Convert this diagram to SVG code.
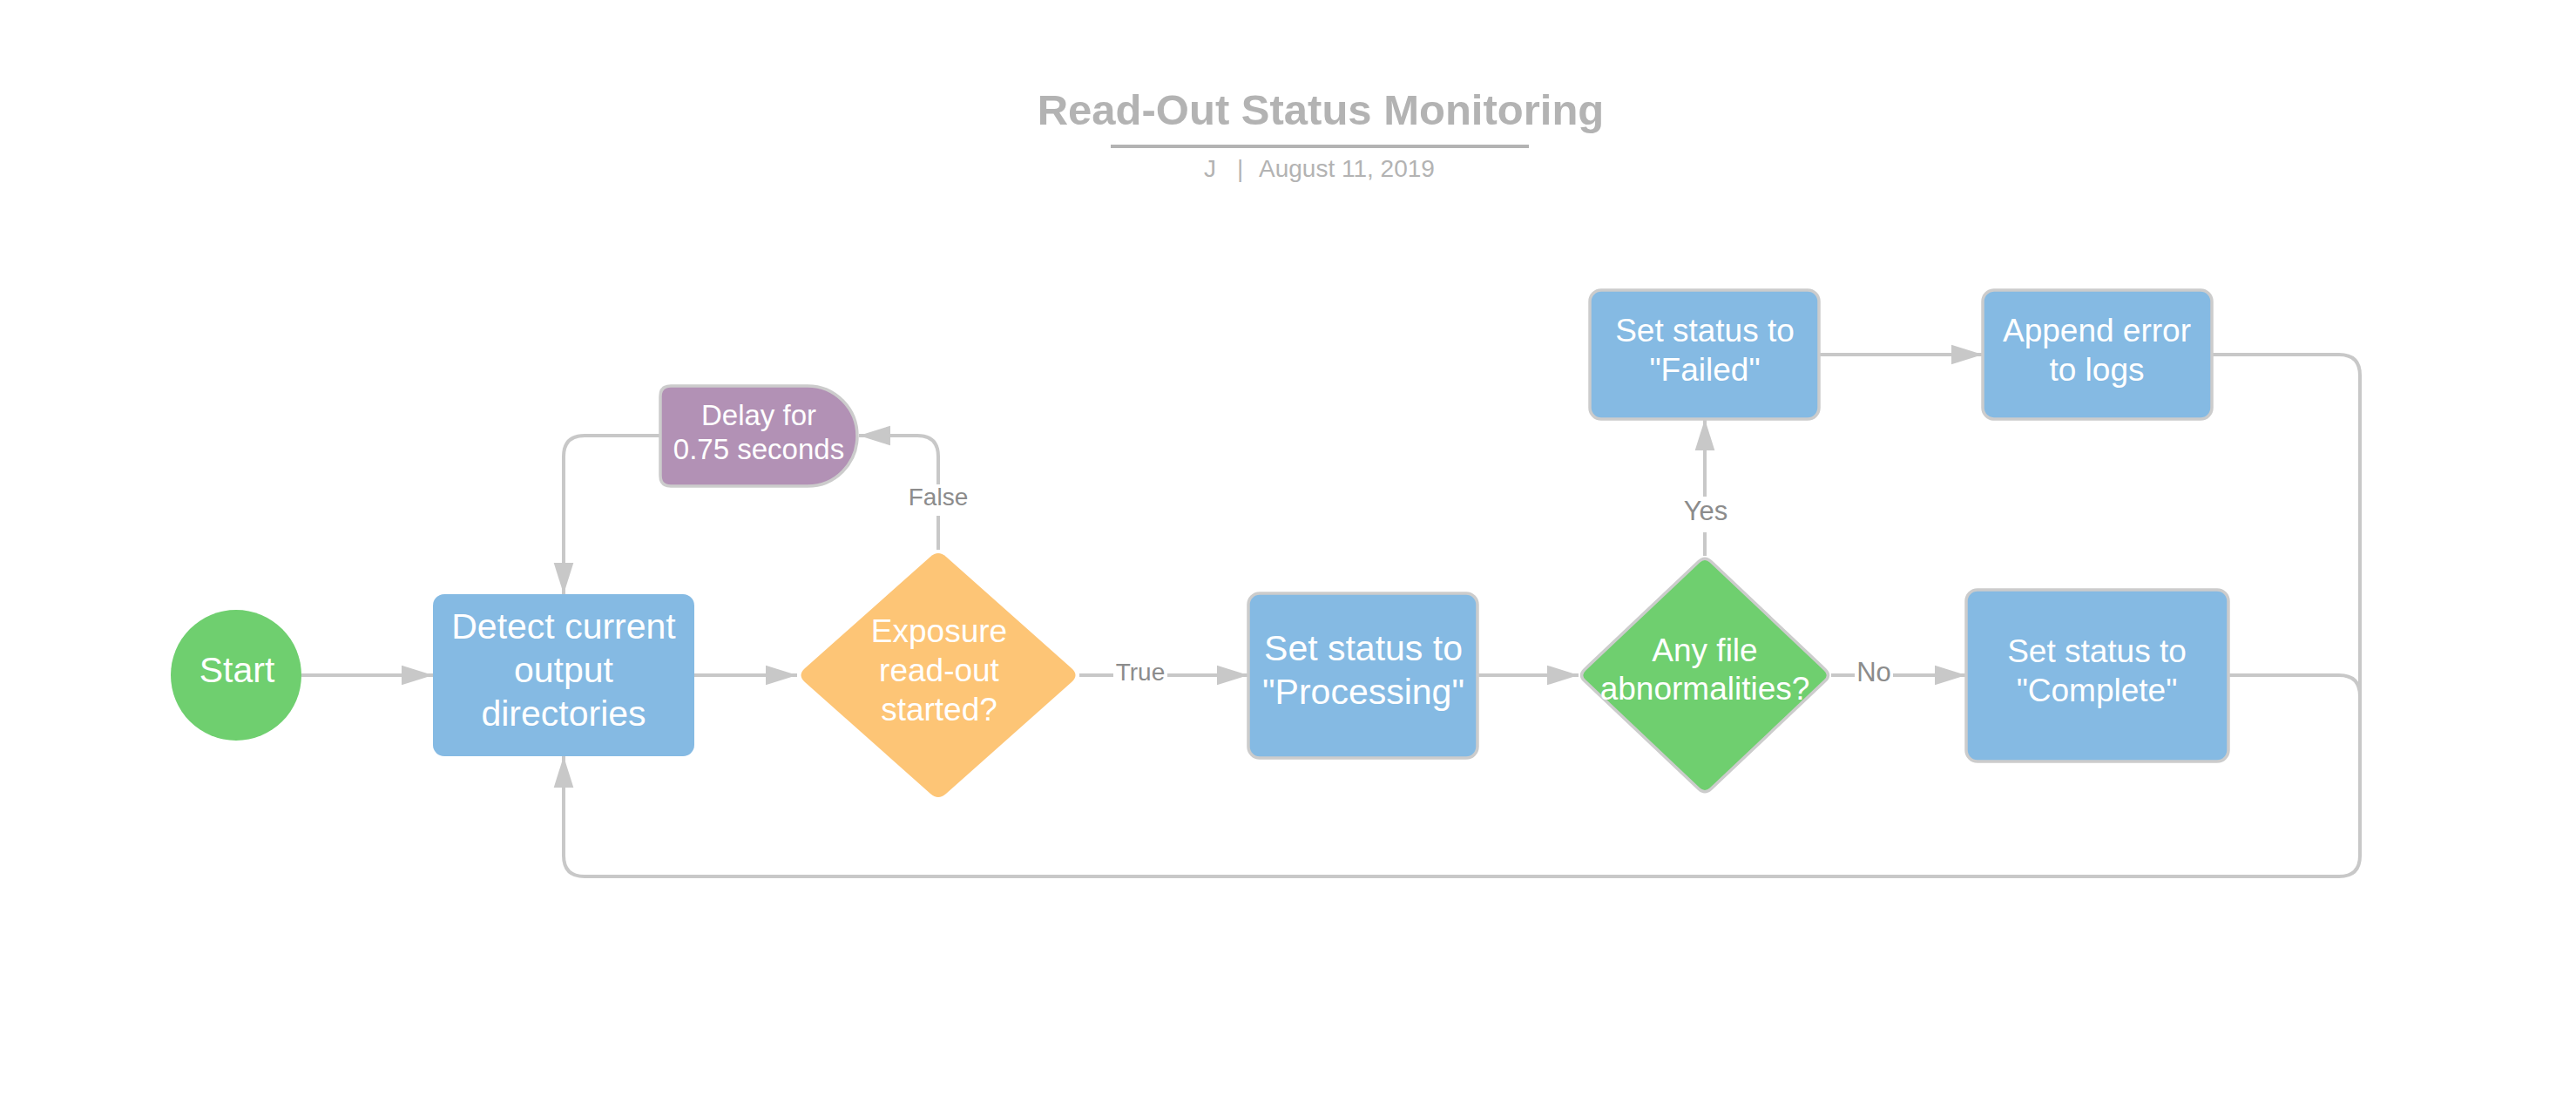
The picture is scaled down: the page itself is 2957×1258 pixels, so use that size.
<svg xmlns="http://www.w3.org/2000/svg" width="2957" height="1258" viewBox="0 0 2957 1258">
<defs>
<style>
.t{font-family:"Liberation Sans",Arial,sans-serif;fill:#ffffff;text-anchor:middle}
.lbl{font-family:"Liberation Sans",Arial,sans-serif;fill:#8c8c8c;text-anchor:middle}
.hdr{font-family:"Liberation Sans",Arial,sans-serif;fill:#b3b3b3}
.c{fill:none;stroke:#c8c8c8;stroke-width:4}
.blue{fill:#85bae3}
.bord{stroke:#cccccc;stroke-width:3.5}
</style>
<marker id="ah" markerUnits="userSpaceOnUse" markerWidth="36" markerHeight="24" viewBox="0 0 35 22" refX="35" refY="11" orient="auto">
<path d="M0,0 L35,11 L0,22 z" fill="#c8c8c8"/>
</marker>
</defs>
<rect width="2957" height="1258" fill="#ffffff"/>
<g id="header">
<text class="hdr" x="1516" y="143" font-size="49" font-weight="bold" text-anchor="middle">Read-Out Status Monitoring</text>
<rect x="1275" y="166" width="480" height="4" fill="#b3b3b3"/>
<text class="hdr" y="203" font-size="28"><tspan x="1382">J</tspan><tspan x="1420">|</tspan><tspan x="1445">August 11, 2019</tspan></text>
</g>
<g id="connectors">
<path class="c" d="M346 775 L497 775" marker-end="url(#ah)"/>
<path class="c" d="M797 775 L915 775" marker-end="url(#ah)"/>
<path class="c" d="M1077 631 L1077 592"/>
<path class="c" d="M1077 556 L1077 524 Q1077 500 1053 500 L986 500" marker-end="url(#ah)"/>
<path class="c" d="M758 500 L671 500 Q647 500 647 524 L647 682" marker-end="url(#ah)"/>
<path class="c" d="M1239 775 L1278 775"/>
<path class="c" d="M1340 775 L1433 775" marker-end="url(#ah)"/>
<path class="c" d="M1696 775 L1812 775" marker-end="url(#ah)"/>
<path class="c" d="M1957 638 L1957 611"/>
<path class="c" d="M1957 570 L1957 481" marker-end="url(#ah)"/>
<path class="c" d="M2102 775 L2129 775"/>
<path class="c" d="M2173 775 L2257 775" marker-end="url(#ah)"/>
<path class="c" d="M2088 407 L2276 407" marker-end="url(#ah)"/>
<path class="c" d="M2558 775 L2685 775 Q2709 775 2709 799 L2709 900"/>
<path class="c" d="M2539 407 L2685 407 Q2709 407 2709 431 L2709 982 Q2709 1006 2685 1006 L671 1006 Q647 1006 647 982 L647 868" marker-end="url(#ah)"/>
<text class="lbl" x="1077" y="580" font-size="28">False</text>
<text class="lbl" x="1309" y="781" font-size="28">True</text>
<text class="lbl" x="1958" y="597" font-size="31">Yes</text>
<text class="lbl" x="2151" y="782" font-size="31">No</text>
</g>
<g id="start">
<circle cx="271" cy="775" r="75" fill="#6fcf6f"/>
<text class="t" x="272" y="783" font-size="41">Start</text>
</g>
<g id="detect">
<rect class="blue" x="497" y="682" width="300" height="186" rx="13"/>
<text class="t" x="647" y="733" font-size="41">Detect current</text>
<text class="t" x="647" y="783" font-size="41">output</text>
<text class="t" x="647" y="833" font-size="41">directories</text>
</g>
<g id="delay">
<path class="bord" d="M770 443 L927 443 A57 57.5 0 0 1 927 558 L770 558 Q758 558 758 546 L758 455 Q758 443 770 443 Z" fill="#b291b5"/>
<text class="t" x="871" y="488" font-size="33">Delay for</text>
<text class="t" x="871" y="527" font-size="33">0.75 seconds</text>
</g>
<g id="exposure">
<path d="M1086 639 L1230 767 Q1239 775 1230 783 L1086 911 Q1077 919 1068 911 L924 783 Q915 775 924 767 L1068 639 Q1077 631 1086 639 Z" fill="#fdc576"/>
<text class="t" x="1078" y="737" font-size="37">Exposure</text>
<text class="t" x="1078" y="782" font-size="37">read-out</text>
<text class="t" x="1078" y="827" font-size="37">started?</text>
</g>
<g id="processing">
<rect class="blue bord" x="1433" y="681" width="263" height="189" rx="13"/>
<text class="t" x="1565" y="758" font-size="41">Set status to</text>
<text class="t" x="1565" y="808" font-size="41">"Processing"</text>
</g>
<g id="abnormal">
<path class="bord" d="M1964 644.5 L2095 768.4 Q2102 775 2095 781.6 L1964 905.5 Q1957 912 1950 905.5 L1819 781.6 Q1812 775 1819 768.4 L1950 644.5 Q1957 638 1964 644.5 Z" fill="#6fcf6f"/>
<text class="t" x="1957" y="759" font-size="37">Any file</text>
<text class="t" x="1957" y="803" font-size="37">abnormalities?</text>
</g>
<g id="failed">
<rect class="blue bord" x="1825" y="333" width="263" height="148" rx="13"/>
<text class="t" x="1957" y="392" font-size="37">Set status to</text>
<text class="t" x="1957" y="437" font-size="37">"Failed"</text>
</g>
<g id="append">
<rect class="blue bord" x="2276" y="333" width="263" height="148" rx="13"/>
<text class="t" x="2407" y="392" font-size="37">Append error</text>
<text class="t" x="2407" y="437" font-size="37">to logs</text>
</g>
<g id="complete">
<rect class="blue bord" x="2257" y="677" width="301" height="197" rx="13"/>
<text class="t" x="2407" y="760" font-size="37">Set status to</text>
<text class="t" x="2407" y="805" font-size="37">"Complete"</text>
</g>
</svg>
